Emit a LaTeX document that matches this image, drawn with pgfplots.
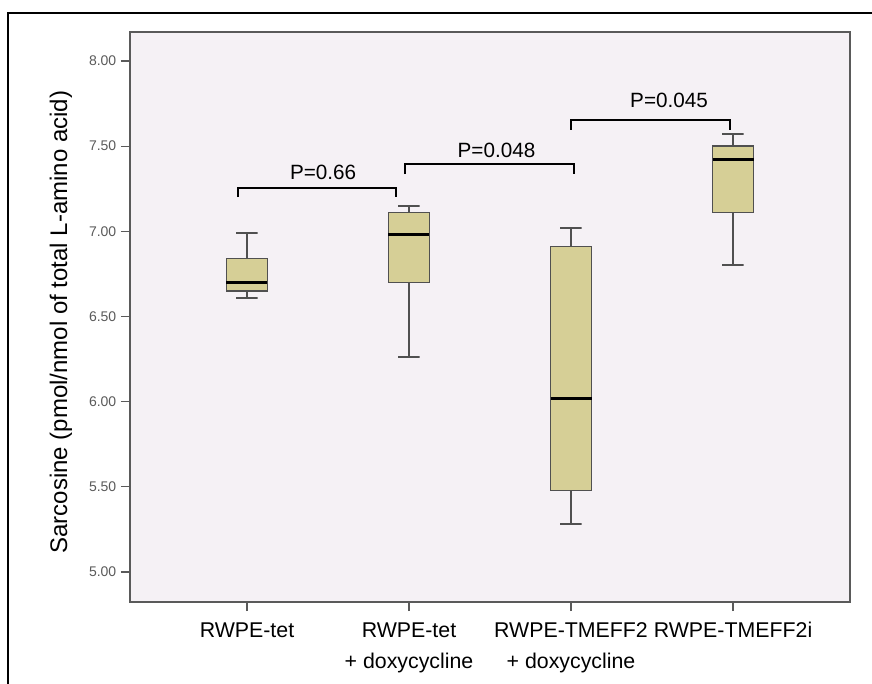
\documentclass[border=0pt]{standalone}
\usepackage{fontspec}
\setmainfont{Liberation Sans}
\usepackage{pgfplots}
\pgfplotsset{compat=1.18}
\definecolor{bg}{RGB}{245,241,245}
\definecolor{boxfill}{RGB}{214,207,150}
\definecolor{boxdraw}{RGB}{80,80,80}
\definecolor{axgray}{RGB}{90,90,90}
\pgfplotsset{
  whisk/.style={draw=boxdraw, line width=1.5pt, mark=none, sharp plot},
  bx/.style={draw=boxdraw, fill=boxfill, line width=1.1pt, mark=none, sharp plot, line join=miter},
  med/.style={draw=black, line width=2.2pt, mark=none, sharp plot},
}
\begin{document}
\begin{tikzpicture}
\path[use as bounding box] (-97.5pt,-60.75pt) rectangle (556.5pt,451.5pt);
\draw[line width=1.1pt, black] (-91.5pt,-70pt) -- (-91.5pt,441.75pt) -- (570pt,441.75pt);
\begin{axis}[
  at={(0,0)}, anchor=south west,
  scale only axis, width=540pt, height=427.5pt,
  xmin=-0.722, xmax=3.722, ymin=4.824, ymax=8.17,
  axis background/.style={fill=bg},
  axis line style={draw=axgray, line width=1.1pt},
  xtick={0,1,2,3},
  xticklabels={RWPE-tet, {RWPE-tet\\+ doxycycline}, {RWPE-TMEFF2\\+ doxycycline}, RWPE-TMEFF2i},
  xticklabel style={align=center, font=\fontsize{16}{23.25}\selectfont, yshift=-5pt},
  ytick={5,5.5,6,6.5,7,7.5,8},
  /pgf/number format/fixed, /pgf/number format/fixed zerofill, /pgf/number format/precision=2,
  /pgf/number format/assume math mode=true,
  yticklabel style={font=\fontsize{10.5}{12}\selectfont, text=axgray},
  tick style={draw=axgray, line width=0.9pt},
  major tick length=6.75pt, tick align=outside,
  xtick pos=bottom, ytick pos=left,
  ylabel={Sarcosine (pmol/nmol of total L-amino acid)},
  ylabel style={font=\fontsize{18}{21}\selectfont, at={(axis description cs:-0.096,0.491)}, anchor=center},
]
% RWPE-tet: q1 6.65, q3 6.84, median 6.70, whiskers 6.61 / 6.99
\addplot[whisk] coordinates {(-0.065,6.99) (0.065,6.99) (0,6.99) (0,6.84)};
\addplot[whisk] coordinates {(-0.065,6.61) (0.065,6.61) (0,6.61) (0,6.65)};
\addplot[bx] coordinates {(-0.1265,6.65) (0.1265,6.65) (0.1265,6.84) (-0.1265,6.84)} -- cycle;
\addplot[med] coordinates {(-0.1265,6.70) (0.1265,6.70)};
% RWPE-tet + doxycycline: q1 6.70, q3 7.11, median 6.98, whiskers 6.26 / 7.15
\addplot[whisk] coordinates {(0.935,7.15) (1.065,7.15) (1,7.15) (1,7.11)};
\addplot[whisk] coordinates {(0.935,6.26) (1.065,6.26) (1,6.26) (1,6.70)};
\addplot[bx] coordinates {(0.8735,6.70) (1.1265,6.70) (1.1265,7.11) (0.8735,7.11)} -- cycle;
\addplot[med] coordinates {(0.8735,6.98) (1.1265,6.98)};
% RWPE-TMEFF2 + doxycycline: q1 5.48, q3 6.91, median 6.02, whiskers 5.28 / 7.02
\addplot[whisk] coordinates {(1.935,7.02) (2.065,7.02) (2,7.02) (2,6.91)};
\addplot[whisk] coordinates {(1.935,5.28) (2.065,5.28) (2,5.28) (2,5.48)};
\addplot[bx] coordinates {(1.8735,5.48) (2.1265,5.48) (2.1265,6.91) (1.8735,6.91)} -- cycle;
\addplot[med] coordinates {(1.8735,6.02) (2.1265,6.02)};
% RWPE-TMEFF2i: q1 7.11, q3 7.50, median 7.42, whiskers 6.80 / 7.57
\addplot[whisk] coordinates {(2.935,7.57) (3.065,7.57) (3,7.57) (3,7.50)};
\addplot[whisk] coordinates {(2.935,6.80) (3.065,6.80) (3,6.80) (3,7.11)};
\addplot[bx] coordinates {(2.8735,7.11) (3.1265,7.11) (3.1265,7.50) (2.8735,7.50)} -- cycle;
\addplot[med] coordinates {(2.8735,7.42) (3.1265,7.42)};
% significance brackets
\addplot[black, line width=1.5pt, sharp plot, mark=none] coordinates {(-0.057,7.20) (-0.057,7.2525) (0.922,7.2525) (0.922,7.20)};
\addplot[black, line width=1.5pt, sharp plot, mark=none] coordinates {(0.977,7.336) (0.977,7.395) (2.017,7.395) (2.017,7.336)};
\addplot[black, line width=1.5pt, sharp plot, mark=none] coordinates {(2.0,7.595) (2.0,7.654) (2.98,7.654) (2.98,7.595)};
\node[font=\fontsize{15.5}{18}\selectfont] at (axis cs:0.47,7.348) {P=0.66};
\node[font=\fontsize{15.5}{18}\selectfont] at (axis cs:1.54,7.477) {P=0.048};
\node[font=\fontsize{15.5}{18}\selectfont] at (axis cs:2.605,7.771) {P=0.045};
\end{axis}
\end{tikzpicture}
\end{document}
